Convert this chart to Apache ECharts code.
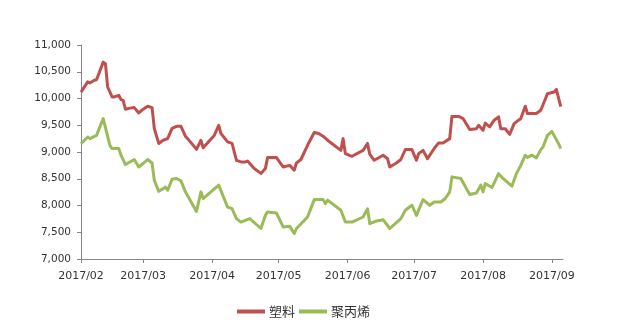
<!DOCTYPE html>
<html>
<head>
<meta charset="utf-8">
<script src="https://cdn.jsdelivr.net/npm/echarts@6/dist/echarts.min.js"></script>
<style>
  html, body { margin: 0; padding: 0; background: #fff; }
  #chart { width: 626px; height: 336px; }
</style>
</head>
<body>
<div id="chart"></div>
<script>
// 塑料 daily price (yuan/ton)
const plasticDates = [
  '2017-02-01','2017-02-04','2017-02-05','2017-02-07','2017-02-08','2017-02-11','2017-02-12','2017-02-13',
  '2017-02-15','2017-02-16','2017-02-18','2017-02-19','2017-02-20','2017-02-21','2017-02-23','2017-02-25',
  '2017-02-27','2017-03-01','2017-03-03','2017-03-05','2017-03-06','2017-03-08','2017-03-10','2017-03-12',
  '2017-03-14','2017-03-16','2017-03-18','2017-03-20','2017-03-21','2017-03-25','2017-03-27','2017-03-28',
  '2017-04-02','2017-04-04','2017-04-05','2017-04-08','2017-04-10','2017-04-12','2017-04-14','2017-04-16',
  '2017-04-17','2017-04-20','2017-04-23','2017-04-25','2017-04-26','2017-04-30','2017-05-03','2017-05-06',
  '2017-05-08','2017-05-09','2017-05-11','2017-05-14','2017-05-17','2017-05-19','2017-05-21','2017-05-23',
  '2017-05-29','2017-05-30','2017-05-31','2017-06-03','2017-06-08','2017-06-10','2017-06-11','2017-06-13',
  '2017-06-17','2017-06-19','2017-06-20','2017-06-23','2017-06-25','2017-06-27','2017-06-30','2017-07-02',
  '2017-07-03','2017-07-05','2017-07-07','2017-07-10','2017-07-12','2017-07-14','2017-07-17','2017-07-18',
  '2017-07-21','2017-07-23','2017-07-26','2017-07-29','2017-07-30','2017-08-01','2017-08-02','2017-08-04',
  '2017-08-06','2017-08-08','2017-08-09','2017-08-11','2017-08-13','2017-08-15','2017-08-17','2017-08-18',
  '2017-08-20','2017-08-21','2017-08-25','2017-08-27','2017-08-30','2017-09-02','2017-09-03','2017-09-05'
];
const plasticValues = [
  10120, 10310, 10290, 10340, 10350, 10680, 10650, 10215,
  10030, 10030, 10060, 9980, 9965, 9800, 9820, 9830,
  9730, 9800, 9855, 9830, 9440, 9160, 9220, 9250,
  9440, 9480, 9480, 9295, 9250, 9050, 9220, 9080,
  9310, 9500, 9345, 9190, 9160, 8845, 8815, 8815,
  8830, 8690, 8600, 8690, 8895, 8895, 8720, 8750,
  8660, 8795, 8860, 9125, 9365, 9345, 9295, 9220,
  9030, 9250, 8970, 8920, 9030, 9160, 8960, 8845,
  8940, 8875, 8720, 8795, 8860, 9045, 9045, 8845,
  8970, 9030, 8875, 9065, 9170, 9170, 9250, 9665,
  9665, 9625, 9420, 9435, 9500, 9405, 9540, 9470,
  9595, 9655, 9435, 9435, 9330, 9530, 9595, 9625,
  9855, 9720, 9720, 9780, 10090, 10120, 10170, 9850
];

// 聚丙烯 daily price (yuan/ton)
const ppDates = [
  '2017-02-01','2017-02-04','2017-02-05','2017-02-08','2017-02-11','2017-02-14','2017-02-15','2017-02-18',
  '2017-02-19','2017-02-21','2017-02-25','2017-02-27','2017-03-01','2017-03-03','2017-03-05','2017-03-06',
  '2017-03-08','2017-03-10','2017-03-11','2017-03-12','2017-03-14','2017-03-16','2017-03-18','2017-03-20',
  '2017-03-25','2017-03-27','2017-03-28','2017-04-04','2017-04-08','2017-04-10','2017-04-12','2017-04-14',
  '2017-04-18','2017-04-23','2017-04-25','2017-04-26','2017-04-30','2017-05-03','2017-05-06','2017-05-08',
  '2017-05-09','2017-05-14','2017-05-17','2017-05-21','2017-05-22','2017-05-23','2017-05-29','2017-05-31',
  '2017-06-03','2017-06-08','2017-06-10','2017-06-11','2017-06-14','2017-06-17','2017-06-20','2017-06-25',
  '2017-06-27','2017-06-30','2017-07-02','2017-07-05','2017-07-08','2017-07-10','2017-07-13','2017-07-15',
  '2017-07-17','2017-07-18','2017-07-22','2017-07-26','2017-07-29','2017-07-31','2017-08-01','2017-08-02',
  '2017-08-05','2017-08-08','2017-08-10','2017-08-14','2017-08-16','2017-08-18','2017-08-20','2017-08-21',
  '2017-08-23','2017-08-25','2017-08-27','2017-08-28','2017-08-30','2017-09-01','2017-09-04','2017-09-05'
];
const ppValues = [
  9155, 9280, 9250, 9310, 9625, 9125, 9065, 9065,
  8940, 8765, 8860, 8720, 8785, 8860, 8795, 8470,
  8265, 8315, 8345, 8285, 8490, 8505, 8460, 8255,
  7890, 8255, 8130, 8380, 7970, 7940, 7755, 7690,
  7755, 7570, 7815, 7880, 7860, 7600, 7610, 7475,
  7570, 7785, 8110, 8110, 8035, 8100, 7910, 7690,
  7690, 7785, 7940, 7660, 7710, 7735, 7570, 7755,
  7910, 8005, 7815, 8110, 8005, 8065, 8065, 8130,
  8255, 8535, 8505, 8205, 8235, 8380, 8255, 8410,
  8335, 8595, 8505, 8360, 8595, 8750, 8940, 8900,
  8940, 8890, 9045, 9095, 9310, 9385, 9155, 9065
];

// Month starts used as x-axis ticks and labels
const monthTicks = [
  '2017-02-01','2017-03-01','2017-04-01','2017-05-01',
  '2017-06-01','2017-07-01','2017-08-01','2017-09-01'
];

const ts = s => Date.UTC(+s.slice(0, 4), +s.slice(5, 7) - 1, +s.slice(8, 10));
const zip = (d, v) => d.map((s, i) => [ts(s), v[i]]);
const monthLabel = v => {
  const d = new Date(v);
  return d.getUTCFullYear() + '/' + String(d.getUTCMonth() + 1).padStart(2, '0');
};

const axisGray = '#868686';
const textColor = '#333333';
const fontFamily = '"DejaVu Sans", Verdana, sans-serif';

const chart = echarts.init(document.getElementById('chart'), null, { renderer: 'canvas' });
chart.setOption({
  animation: false,
  backgroundColor: '#ffffff',
  grid: { left: 81, right: 63, top: 45, bottom: 77, containLabel: false },
  legend: {
    left: 232,
    top: 300,
    itemGap: 4,
    itemWidth: 28,
    itemHeight: 4,
    icon: 'rect',
    textStyle: { fontSize: 13, color: '#333', fontFamily: '"Noto Sans CJK SC", sans-serif', padding: [0, 0, 0, -1] },
    data: ['塑料', '聚丙烯']
  },
  xAxis: {
    type: 'value',
    min: ts('2017-02-01'),
    max: ts('2017-09-06'),
    axisLine: { show: true, lineStyle: { color: axisGray, width: 1 } },
    axisTick: {
      show: true,
      length: 4,
      lineStyle: { color: axisGray },
      customValues: monthTicks.map(ts)
    },
    axisLabel: {
      customValues: monthTicks.map(ts),
      margin: 12,
      fontSize: 11,
      color: textColor,
      fontFamily: fontFamily,
      formatter: monthLabel
    },
    splitLine: { show: false }
  },
  yAxis: {
    type: 'value',
    min: 7000,
    max: 11000,
    interval: 500,
    axisLine: { show: true, lineStyle: { color: axisGray, width: 1 } },
    axisTick: { show: true, length: 4, lineStyle: { color: axisGray } },
    axisLabel: {
      margin: 10,
      fontSize: 10.5,
      color: textColor,
      fontFamily: fontFamily,
      formatter: v => v.toLocaleString('en-US')
    },
    splitLine: { show: false }
  },
  series: [
    {
      name: '塑料',
      type: 'line',
      data: zip(plasticDates, plasticValues),
      showSymbol: false,
      symbol: 'none',
      lineStyle: { color: '#C0504D', width: 3, join: 'round' },
      itemStyle: { color: '#C0504D' }
    },
    {
      name: '聚丙烯',
      type: 'line',
      data: zip(ppDates, ppValues),
      showSymbol: false,
      symbol: 'none',
      lineStyle: { color: '#9BBB59', width: 3, join: 'round' },
      itemStyle: { color: '#9BBB59' }
    }
  ]
});
</script>
</body>
</html>
